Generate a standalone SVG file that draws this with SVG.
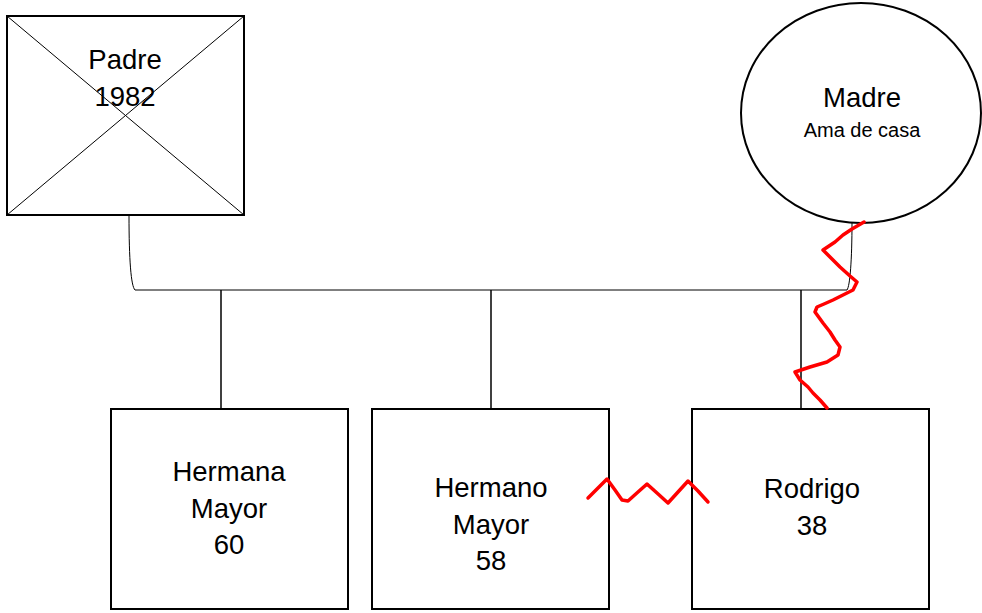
<svg xmlns="http://www.w3.org/2000/svg" width="982" height="613" viewBox="0 0 982 613">
  <style>
    .box { fill: #fff; stroke: #000; stroke-width: 2; }
    .thin { fill: none; stroke: #000; stroke-width: 1; }
    .link { fill: none; stroke: #000; stroke-width: 1.5; }
    .zig { fill: none; stroke: #ff0000; stroke-width: 3.5; stroke-linejoin: round; stroke-linecap: round; }
    text { font-family: "Liberation Sans", Arial, sans-serif; fill: #000; text-anchor: middle; }
    .lbl { font-size: 27.5px; }
    .sub { font-size: 20px; }
  </style>
  <rect width="982" height="613" fill="#fff"/>

  <!-- family lines -->
  <g id="connectors">
    <path class="thin" d="M129,215 C129,260 131,286 135,290 L847,290 C850,286 852,260 852,222"/>
    <line class="link" x1="221" y1="290" x2="221" y2="409"/>
    <line class="link" x1="491" y1="290" x2="491" y2="409"/>
    <line class="link" x1="801" y1="290" x2="801" y2="409"/>
  </g>

  <g id="padre">
    <rect class="box" x="7" y="16" width="237" height="199"/>
    <line class="thin" x1="7" y1="16" x2="244" y2="215"/>
    <line class="thin" x1="244" y1="16" x2="7" y2="215"/>
    <text class="lbl" x="125" y="69">Padre</text>
    <text class="lbl" x="125" y="106">1982</text>
  </g>

  <g id="madre">
    <ellipse class="box" cx="861" cy="113" rx="120" ry="110"/>
    <text class="lbl" x="862" y="107">Madre</text>
    <text class="sub" x="862" y="137">Ama de casa</text>
  </g>

  <g id="hermana">
    <rect class="box" x="111" y="409" width="237" height="200"/>
    <text class="lbl" x="229" y="481">Hermana</text>
    <text class="lbl" x="229" y="518">Mayor</text>
    <text class="lbl" x="229" y="554">60</text>
  </g>

  <g id="hermano">
    <rect class="box" x="372" y="409" width="237" height="200"/>
    <text class="lbl" x="491" y="497">Hermano</text>
    <text class="lbl" x="491" y="534">Mayor</text>
    <text class="lbl" x="491" y="570">58</text>
  </g>

  <g id="rodrigo">
    <rect class="box" x="692" y="409" width="237" height="200"/>
    <text class="lbl" x="812" y="498">Rodrigo</text>
    <text class="lbl" x="812" y="535">38</text>
  </g>

  <!-- conflict marks -->
  <g id="conflicts">
    <polyline class="zig" points="864,222 852,229 843,235 835,242 823,250 832,259 840,267 850,276 857,282 853,290 843,295 833,300 824,304 817,307 815,312 823,323 830,332 835,340 840,347 838,355 827,362 810,367 795,372 800,380 808,387 813,393 820,400 827,408"/>
    <polyline class="zig" points="588,498 598,488 607,479 615,490 622,500 628,501 638,492 647,484 657,493 668,503 678,492 688,481 698,491 708,502"/>
  </g>
</svg>
